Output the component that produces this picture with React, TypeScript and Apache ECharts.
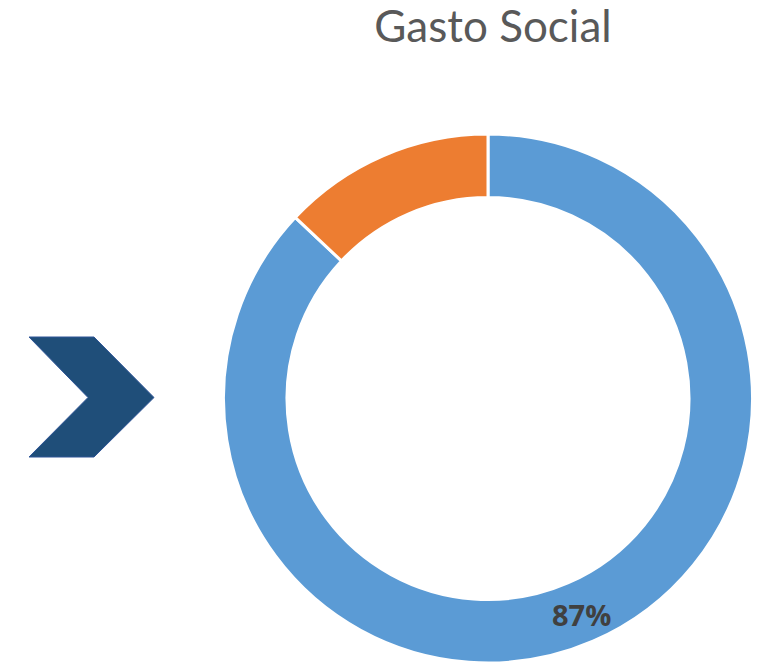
import React, { useEffect, useRef } from "react";
import * as echarts from "echarts";

const categories = ["Gasto Social", "Otro gasto"];
const values = [87, 13];
const labelShown = [true, false];
const colors = ["#5B9BD5", "#ED7D31"];

export default function App() {
  const ref = useRef<HTMLDivElement>(null);
  useEffect(() => {
    document.body.style.margin = "0";
    const chart = echarts.init(ref.current!, undefined, { renderer: "svg" });
    chart.setOption({
      animation: false,
      backgroundColor: "#ffffff",
      title: {
        text: "Gasto Social",
        left: 488,
        top: -2,
        textAlign: "center",
        textStyle: {
          fontFamily: "Lato",
          fontWeight: "normal",
          fontSize: 44,
          color: "#595959",
        },
      },
      graphic: [
        {
          type: "polygon",
          shape: {
            points: [
              [29, 337],
              [94, 337],
              [154, 397.5],
              [94, 457],
              [29, 457],
              [88, 397.5],
            ],
          },
          style: { fill: "#1F4E79", stroke: "#2F5597", lineWidth: 1 },
        },
      ],
      series: [
        {
          type: "pie",
          center: [488, 398.5],
          radius: [201, 264.5],
          startAngle: 90,
          clockwise: true,
          avoidLabelOverlap: false,
          itemStyle: { borderColor: "#ffffff", borderWidth: 3 },
          label: {
            position: "inside",
            formatter: "{d}%",
            fontFamily: "Open Sans",
            fontWeight: "bold",
            fontSize: 29,
            color: "#404040",
          },
          labelLine: { show: false },
          emphasis: { disabled: true },
          data: categories.map((c, i) => ({
            name: c,
            value: values[i],
            itemStyle: { color: colors[i] },
            label: { show: labelShown[i] },
          })),
        },
      ],
    });
    return () => chart.dispose();
  }, []);
  return <div ref={ref} style={{ width: 764, height: 666 }} />;
}
